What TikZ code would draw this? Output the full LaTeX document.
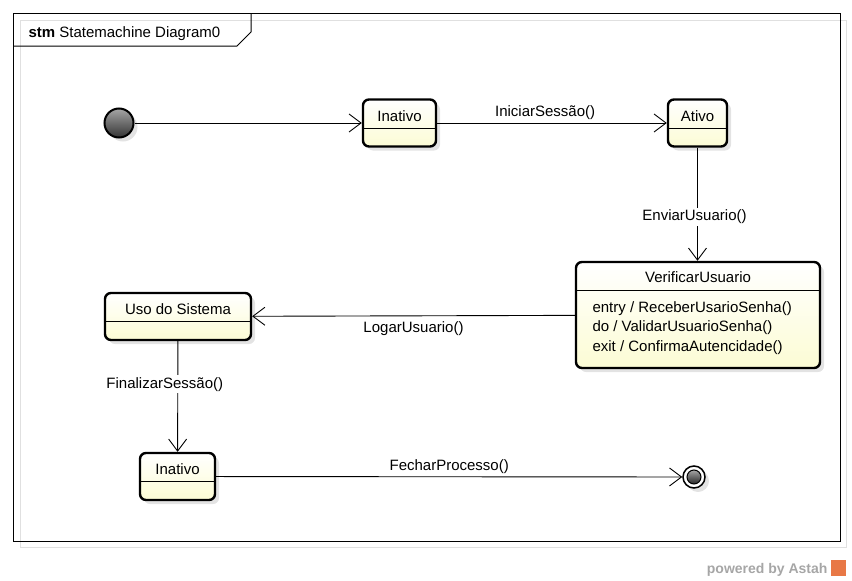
\documentclass[tikz,border=0pt]{standalone}
\usepackage{fontspec}
\setmainfont{Liberation Sans}
\usetikzlibrary{arrows.meta,shadows,positioning}

\definecolor{creme}{RGB}{252,252,212}
\definecolor{astah}{RGB}{232,120,70}

\begin{document}
\begin{tikzpicture}
  [x=1pt,y=-1pt,
   every node/.style={font=\fontsize{15}{18}\selectfont},
   sombra/.style={drop shadow={shadow xshift=4pt,shadow yshift=-4pt,fill=black!18,opacity=.6}},
   estado/.style={draw,line width=2.4pt,rounded corners=6pt,top color=white,bottom color=creme,sombra},
   seta/.style={line width=0.9pt,-{Straight Barb[length=12pt,width=18pt,line width=0.9pt]}},
   rotulo/.style={inner sep=2pt}]
\useasboundingbox (0,0) rectangle (852,581);
\draw[black!12] (20,20) rectangle (846,547);
\draw[line width=1pt] (13,13) rectangle (840,541);
\draw[line width=1pt] (13,46) -- (237,46) -- (251,32) -- (251,13);
\node[anchor=base west] (titulo) at (25,37) {\textbf{stm} Statemachine Diagram0};
\node[circle,draw,line width=2pt,minimum size=29pt,top color=black!35,bottom color=black!80,sombra]
  (ini) at (119,123) {};
\foreach \n/\x/\y/\w/\t in {ina/399.5/123/73/Inativo,ati/697.5/123/59/Ativo,
    uso/178/316.5/146/Uso do Sistema,fim/177.5/476.5/75/Inativo} {
  \node[estado,minimum width=\w pt,minimum height=47pt] (\n) at (\x,\y) {};
  \node[anchor=base] (\n t) at ([yshift=-23pt]\n.north) {\t};
  \draw[line width=1pt] ([yshift=-30pt]\n.north west) -- ([yshift=-30pt]\n.north east);
}
\node[estado,minimum width=244pt,minimum height=106pt] (verif) at (698,315) {};
\node[anchor=base] (verift) at ([yshift=-22pt]verif.north) {VerificarUsuario};
\draw[line width=1pt] ([yshift=-30pt]verif.north west) -- ([yshift=-30pt]verif.north east);
\foreach \i/\t in {0/{entry / ReceberUsarioSenha()},1/{do / ValidarUsuarioSenha()},
    2/{exit / ConfirmaAutencidade()}}
  \node[anchor=base west] (acao\i) at (589,312+19.5*\i) {\t};
\node[circle,draw,line width=1.5pt,fill=white,minimum size=22pt,sombra] (final) at (694,477) {};
\node[circle,draw,line width=1pt,minimum size=14pt,top color=black!35,bottom color=black!85]
  (finalin) at (final) {};
\draw[seta] (ini) -- (ina);
\draw[seta] (ina) -- node[rotulo,pos=.47,above=1pt] {IniciarSessão()} (ati);
\draw[seta] (ati) -- node[rotulo,pos=.61,xshift=-3pt,fill=white] {EnviarUsuario()} (ati |- verif.north);
\draw[seta] (verif) -- node[rotulo,below=3pt] {LogarUsuario()} (uso);
\draw[seta] (uso) -- node[rotulo,pos=.39,xshift=-13pt,fill=white] {FinalizarSessão()} (fim);
\draw[seta] (fim) -- node[rotulo,pos=.5,above=1pt] {FecharProcesso()} (final);
\node[anchor=base east,text=black!35,font=\bfseries\fontsize{14}{16}\selectfont] (astah) at (831,573) {powered by Astah};
\fill[astah] (831,560) rectangle (846,576);
\end{tikzpicture}
\end{document}
